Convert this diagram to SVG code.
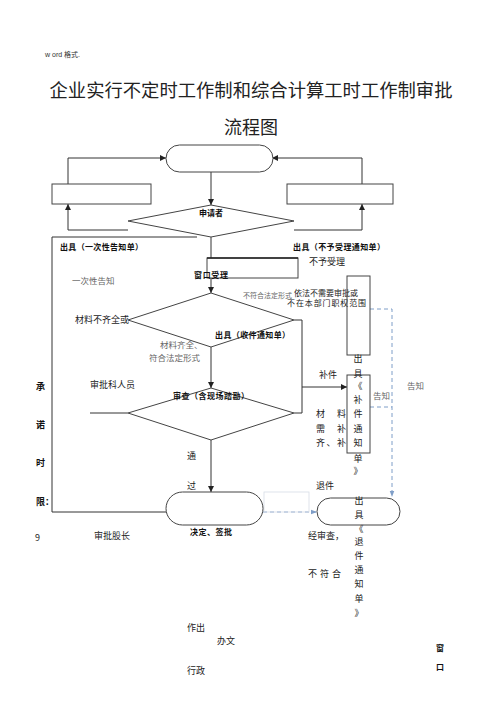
<svg xmlns="http://www.w3.org/2000/svg" width="500" height="707" viewBox="0 0 500 707">
<defs>
<style>
.ln{fill:none;stroke:#333;stroke-width:1}
.box{fill:#fff;stroke:#444;stroke-width:1}
.dash{fill:none;stroke:#7f9ec8;stroke-width:1;stroke-dasharray:4,3}
.t{font-family:"Noto Sans CJK SC","Liberation Sans",sans-serif;font-size:9px;fill:#222}
.b{font-family:"Noto Sans CJK SC","Liberation Sans",sans-serif;font-size:8px;font-weight:bold;fill:#111}
.g{font-family:"Noto Sans CJK SC","Liberation Serif",serif;font-size:8.5px;fill:#666}
.title{font-family:"Noto Sans CJK SC","Liberation Serif",serif;font-size:18px;fill:#222}
.v{font-family:"Noto Sans CJK SC","Liberation Sans",sans-serif;font-size:9px;fill:#222;text-anchor:middle}
</style>
<marker id="ar" viewBox="0 0 8 8" refX="8" refY="4" markerWidth="6" markerHeight="6" orient="auto">
<path d="M0,0 L8,4 L0,8 z" fill="#222"/>
</marker>
<marker id="arb" viewBox="0 0 8 8" refX="8" refY="4" markerWidth="6" markerHeight="6" orient="auto">
<path d="M0,1 L8,4 L0,7 z" fill="#7f9ec8"/>
</marker>
</defs>
<rect width="500" height="707" fill="#fff"/>

<text x="45" y="57" style="font-family:'Liberation Sans','Noto Sans CJK SC',sans-serif;font-size:7px;fill:#333">w ord 格式.</text>
<text class="title" x="251" y="97" text-anchor="middle" textLength="403" lengthAdjust="spacingAndGlyphs">企业实行不定时工作制和综合计算工时工作制审批</text>
<text class="title" x="251" y="134" text-anchor="middle">流程图</text>

<g id="connectors">
<path class="ln" d="M68,184 V158 H166" marker-end="url(#ar)"/>
<path class="ln" d="M362,184 V158 H272" marker-end="url(#ar)"/>
<path class="ln" d="M211,172 V205" marker-end="url(#ar)"/>
<path class="ln" d="M128,230 H68 V204" marker-end="url(#ar)"/>
<path class="ln" d="M294,230 H362 V204" marker-end="url(#ar)"/>
<path class="ln" d="M52,237 H197"/>
<path class="ln" d="M52,237 V512 H166"/>
<path class="ln" d="M211,237 V293" marker-end="url(#ar)"/>
<path class="ln" d="M211,347 V388" marker-end="url(#ar)"/>
<path class="ln" d="M294,320 H302 V413 H294"/>
<path class="ln" d="M302,387 H347" marker-end="url(#ar)"/>
<path class="ln" d="M90,413 H128"/>
<path class="ln" d="M211,440 V492" marker-end="url(#ar)"/>
<path class="dash" d="M370,309 H392 V497" marker-end="url(#arb)"/>
<path class="dash" d="M370,407 H392"/>
<path class="dash" d="M263,512 H317" marker-end="url(#arb)"/>
<rect x="264" y="492" width="45" height="20" fill="none" stroke="#d6dde6" stroke-width="0.8"/>
</g>

<g id="start"><rect class="box" x="166" y="145" width="107" height="27" rx="13.5"/></g>
<g id="left-box"><rect class="box" x="52" y="184" width="99" height="20"/></g>
<g id="right-box"><rect class="box" x="287" y="184" width="106" height="20"/></g>

<g id="applicant">
<polygon class="box" points="211,205 294,221 211,237 128,221"/>
<text class="b" x="211" y="216" text-anchor="middle">申请者</text>
</g>
<text class="b" x="60" y="250" textLength="83">出具（一次性告知单）</text>
<text class="b" x="293" y="250" textLength="92">出具（不予受理通知单）</text>

<g id="window">
<rect class="box" x="207" y="258" width="91" height="20"/>
<line x1="207" y1="258" x2="298" y2="258" stroke="#222" stroke-width="1.5"/>
<text class="b" x="194" y="278" textLength="34">窗口受理</text>
</g>
<text class="t" x="309" y="265">不予受理</text>
<text class="g" x="72" y="284">一次性告知</text>

<g id="check1">
<polygon class="box" points="211,293 294,320 211,347 128,320"/>
<text class="b" x="215" y="338" textLength="75">出具（收件通知单）</text>
</g>
<text class="t" x="75" y="323">材料不齐全或</text>
<text class="g" x="243" y="298" style="font-size:7px">不符合法定形式</text>
<text class="t" x="294" y="296" style="font-size:8px" textLength="64">依法不需要审批或</text>
<text class="t" x="287" y="306" style="font-size:8px" textLength="79">不在本部门职权范围</text>
<text class="g" x="160" y="348">材料齐全、</text>
<text class="g" x="149" y="361">符合法定形式</text>

<g id="not-accept-rect"><rect x="347" y="276" width="23" height="79" fill="none" stroke="#444"/></g>
<g id="supp-rect"><rect x="347" y="375" width="23" height="78" fill="none" stroke="#444"/></g>

<text class="v" x="358" y="362">出</text>
<text class="v" x="358" y="377">具</text>
<text class="v" x="358" y="389">《</text>
<text class="v" x="358" y="403">补</text>
<text class="v" x="358" y="417">件</text>
<text class="v" x="358" y="432">通</text>
<text class="v" x="358" y="446">知</text>
<text class="v" x="358" y="462">单</text>
<text class="v" x="358" y="474">》</text>

<text class="t" x="319" y="378">补件</text>
<text class="g" x="373" y="399">告知</text>
<text class="g" x="407" y="389">告知</text>
<text class="t" x="316" y="417" textLength="30">材 料</text>
<text class="t" x="316" y="432" textLength="30">需 补</text>
<text class="t" x="316" y="446" textLength="30">齐、补</text>

<g id="review">
<polygon class="box" points="211,388 294,413 211,440 128,413"/>
<text class="b" x="173" y="399" textLength="76">审查（含现场踏勘）</text>
</g>
<text class="t" x="90" y="388">审批科人员</text>
<text class="b" x="36" y="390" style="font-size:9px">承</text>
<text class="b" x="36" y="428" style="font-size:9px">诺</text>
<text class="b" x="36" y="466" style="font-size:9px">时</text>
<text class="b" x="36" y="505" style="font-size:9px">限：</text>
<text class="t" x="187" y="459">通</text>
<text class="t" x="187" y="489">过</text>

<g id="decide">
<rect class="box" x="166" y="492" width="97" height="33" rx="16.5"/>
<text class="b" x="190" y="535" textLength="42">决定、签批</text>
</g>
<g id="return">
<rect class="box" x="317" y="498" width="83" height="27" rx="13.5"/>
</g>
<text class="t" x="316" y="489">退件</text>
<text class="v" x="359" y="504">出</text>
<text class="v" x="359" y="518">具</text>
<text class="v" x="359" y="532">《</text>
<text class="v" x="359" y="545">退</text>
<text class="v" x="359" y="559">件</text>
<text class="v" x="359" y="573">通</text>
<text class="v" x="359" y="587">知</text>
<text class="v" x="359" y="602">单</text>
<text class="v" x="359" y="616">》</text>
<text class="t" x="308" y="539">经审查，</text>
<text class="t" x="308" y="577" textLength="33">不 符 合</text>
<text class="t" x="35" y="541">9</text>
<text class="t" x="94" y="539">审批股长</text>
<text class="t" x="187" y="631">作出</text>
<text class="t" x="217" y="644">办文</text>
<text class="t" x="187" y="674">行政</text>
<text class="b" x="436" y="651">窗</text>
<text class="b" x="436" y="670">口</text>
</svg>
